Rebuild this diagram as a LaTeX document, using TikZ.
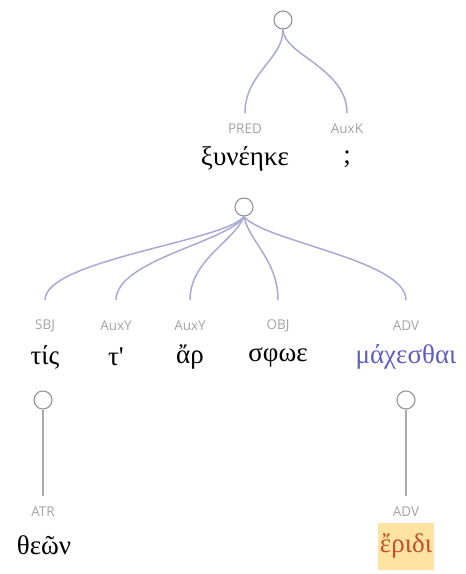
\documentclass[tikz,border=0pt]{standalone}
\usepackage{fontspec}
\setmainfont{Liberation Serif}[Ligatures=TeXOff]
\newfontfamily\lblfont{Open Sans}
\definecolor{edgep}{HTML}{A9A9D6}
\definecolor{edgeg}{HTML}{ABABAB}
\definecolor{circg}{HTML}{959595}
\definecolor{lblg}{HTML}{A3A3A3}
\definecolor{wblue}{HTML}{5E5EC2}
\definecolor{wred}{HTML}{C2502E}
\definecolor{hly}{HTML}{FCE3A2}
\tikzset{
  root/.style={circle,draw=circg,line width=1.1pt,fill=white,minimum size=18pt,inner sep=0pt},
  lbl/.style={font=\lblfont\fontsize{13.5}{16}\selectfont,text=lblg,inner sep=1pt},
  word/.style={font=\fontsize{27}{31}\selectfont,inner sep=1pt},
  pedge/.style={draw=edgep,line width=1.5pt},
  gedge/.style={draw=edgeg,line width=1.5pt}
}
\begin{document}
\begin{tikzpicture}[x=1pt,y=-1pt]
\useasboundingbox (0,0) rectangle (466,574);
% top tree
\node[root] (r1) at (283,20) {};
\node[lbl] (l1) at (245,129) {PRED};
\node[lbl] (l2) at (347,129) {AuxK};
\node[word] (w1) at (245,159) {ξυνέηκε};
\node[word] (w2) at (347,159) {;};
\coordinate (a1) at (245,113);
\coordinate (a2) at (347,113);
\draw[pedge] (r1.south) .. controls +(0,30) and +(0,-40) .. (a1);
\draw[pedge] (r1.south) .. controls +(0,25) and +(0,-45) .. (a2);
% second tree
\node[root] (r2) at (244,207) {};
\node[lbl] (s1) at (45,326) {SBJ};
\node[lbl] (s2) at (116,326) {AuxY};
\node[lbl] (s3) at (190,326) {AuxY};
\node[lbl] (s4) at (278,326) {OBJ};
\node[lbl] (s5) at (406,326) {ADV};
\coordinate (b1) at (45,300);
\coordinate (b2) at (116,300);
\coordinate (b3) at (190,300);
\coordinate (b4) at (278,300);
\coordinate (b5) at (406,300);
\draw[pedge] (r2.south) .. controls +(-20,25) and +(0,-40) .. (b1);
\draw[pedge] (r2.south) .. controls +(-15,25) and +(0,-40) .. (b2);
\draw[pedge] (r2.south) .. controls +(-10,25) and +(0,-40) .. (b3);
\draw[pedge] (r2.south) .. controls +(5,25) and +(0,-40) .. (b4);
\draw[pedge] (r2.south) .. controls +(20,25) and +(0,-40) .. (b5);
\node[word] (t1) at (45,357) {τίς};
\node[word] (t2) at (116,357) {τ'};
\node[word] (t3) at (190,357) {ἄρ};
\node[word] (t4) at (278,357) {σφωε};
\node[word,text=wblue] (t5) at (406,357) {μάχεσθαι};
% third level
\node[root] (r3) at (43,400) {};
\node[root] (r4) at (406,400) {};
\node[lbl] (u1) at (43,512) {ATR};
\node[lbl] (u2) at (406,512) {ADV};
\coordinate (c1) at (43,496);
\coordinate (c2) at (406,496);
\draw[gedge] (r3.south) -- (c1);
\draw[gedge] (r4.south) -- (c2);
\node[word] (v1) at (44,545) {θεῶν};
\node[word,text=wred,fill=hly,minimum width=56pt,minimum height=47pt,inner sep=0pt] (v2) at (406,546) {ἔριδι};
\end{tikzpicture}
\end{document}
